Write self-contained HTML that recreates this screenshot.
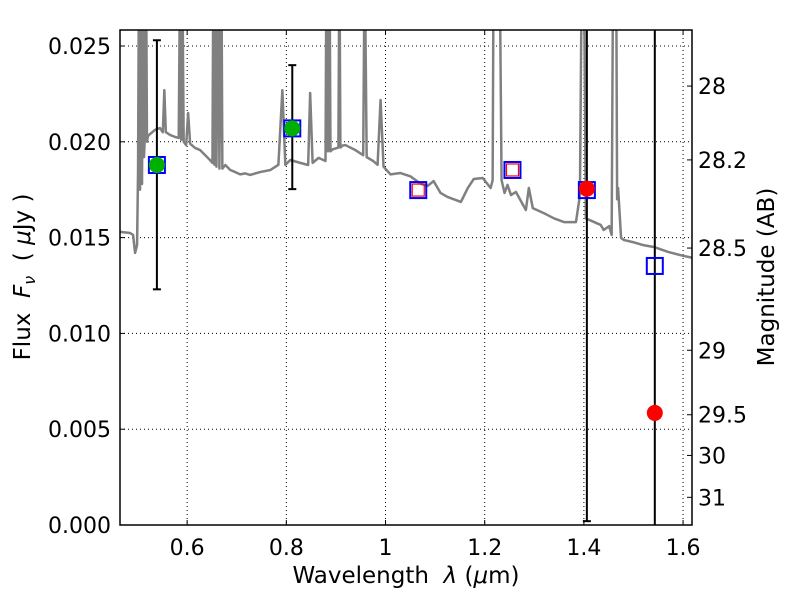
<!DOCTYPE html>
<html><head><meta charset="utf-8"><style>
html,body{margin:0;background:#fff;overflow:hidden;width:800px;height:600px}
svg{display:block}
svg text{font-family:"DejaVu Sans","Liberation Sans",sans-serif;fill:#000}
</style></head><body>
<svg id="chart" width="800" height="600" xmlns="http://www.w3.org/2000/svg" style="position:absolute;left:0;top:0"></svg>
<script>
// model spectrum: [wavelength (um), flux (uJy)]
const spectrum=[
[0.465,0.0153],[0.485,0.01524],[0.491,0.01514],[0.495,0.0142],[0.499,0.01461],[0.501,0.0185],
[0.503,0.03],[0.505,0.0175],[0.507,0.03],[0.509,0.0178],[0.511,0.03],[0.513,0.0192],[0.515,0.0205],
[0.517,0.03],[0.519,0.0200],[0.521,0.0203],[0.525,0.0204],[0.535,0.02062],[0.545,0.02072],
[0.551,0.0205],[0.554,0.0227],[0.557,0.0205],[0.566,0.02035],[0.576,0.02025],[0.583,0.0202],
[0.586,0.03],[0.588,0.0201],[0.590,0.03],[0.593,0.0200],[0.598,0.01983],[0.602,0.0215],
[0.606,0.0199],[0.616,0.01968],[0.626,0.01957],[0.636,0.01931],[0.646,0.01905],[0.651,0.0189],
[0.653,0.03],[0.655,0.0188],[0.657,0.03],[0.659,0.0187],[0.663,0.03],[0.665,0.0186],[0.669,0.03],
[0.671,0.0186],[0.677,0.01879],[0.687,0.01853],[0.697,0.01842],[0.707,0.01830],[0.717,0.01835],
[0.727,0.01827],[0.747,0.01842],[0.768,0.01853],[0.784,0.0188],[0.792,0.0227],[0.798,0.0188],
[0.808,0.01905],[0.828,0.0189],[0.844,0.01879],[0.848,0.02255],[0.853,0.0189],[0.865,0.01916],
[0.879,0.0190],[0.881,0.03],[0.884,0.0195],[0.887,0.03],[0.889,0.0195],[0.893,0.0196],
[0.905,0.0197],[0.907,0.03],[0.909,0.0197],[0.913,0.0198],[0.919,0.01983],[0.939,0.01957],
[0.955,0.0193],[0.958,0.03],[0.962,0.0192],[0.975,0.0190],[0.984,0.0188],[0.990,0.02218],
[0.996,0.0187],[1.010,0.0183],[1.030,0.01837],[1.050,0.01820],[1.071,0.01781],[1.085,0.01770],
[1.097,0.01795],[1.111,0.01733],[1.125,0.01712],[1.152,0.01686],[1.166,0.01759],[1.178,0.01806],
[1.196,0.01811],[1.212,0.01759],[1.216,0.0180],[1.218,0.03],[1.230,0.03],[1.234,0.0180],
[1.240,0.01733],[1.246,0.01775],[1.253,0.01722],[1.263,0.01738],[1.283,0.01644],[1.289,0.01759],
[1.297,0.01654],[1.319,0.01628],[1.340,0.01600],[1.360,0.01581],[1.384,0.01581],[1.392,0.01720],
[1.396,0.03],[1.400,0.03],[1.404,0.0160],[1.434,0.01566],[1.440,0.0154],[1.451,0.0156],
[1.456,0.01514],[1.459,0.03],[1.465,0.03],[1.467,0.0170],[1.469,0.01759],[1.475,0.01498],
[1.481,0.01487],[1.501,0.01475],[1.521,0.01460],[1.541,0.01451],[1.570,0.01425],[1.600,0.01405],[1.620,0.01394]];
const photLam=[0.539,0.812,1.066,1.256,1.406,1.543];
const photFlux=[0.01879,0.0207,0.01748,0.01853,0.01748,0.01352];
const modelRedLam=[1.066,1.256];
const modelRedFlux=[0.01748,0.01853];
const greenLam=[0.539,0.812];
const greenFlux=[0.01879,0.0207];
const greenLo=[0.0123,0.01753];
const greenHi=[0.0253,0.0240];
const redLam=[1.406,1.543];
const redFlux=[0.01755,0.00585];
const redLo=[0.0002,-0.01];
const redHi=[0.05,0.05];
const xTicks=[0.6,0.8,1.0,1.2,1.4,1.6];
const xTickLabels=["0.6","0.8","1","1.2","1.4","1.6"];
const yTicks=[0,0.005,0.01,0.015,0.02,0.025];
const yTickLabels=["0.000","0.005","0.010","0.015","0.020","0.025"];
const magTicks=[28,28.2,28.5,29,29.5,30,31];
const magLabels=["28","28.2","28.5","29","29.5","30","31"];

const L=120,R=692,T=30,B=525;
const xmin=0.4646,xmax=1.618,ymin=0,ymax=(B-T)/19160;
const X=v=>L+(v-xmin)/(xmax-xmin)*(R-L);
const Y=v=>B-(v-ymin)/(ymax-ymin)*(B-T);
const magToFlux=m=>Math.pow(10,(23.9-m)/2.5);
const svg=document.getElementById('chart');
const NS='http://www.w3.org/2000/svg';
function mk(tag,attrs,parent){const e=document.createElementNS(NS,tag);for(const k in attrs)e.setAttribute(k,attrs[k]);(parent||svg).appendChild(e);return e;}

const defs=mk('defs',{});
const cp=mk('clipPath',{id:'clip'},defs);
mk('rect',{x:L,y:T,width:R-L,height:B-T},cp);

xTicks.forEach((t,i)=>{
  const g=mk('line',{x1:X(t),x2:X(t),y1:T,y2:B,stroke:'#000','stroke-width':1,'stroke-dasharray':'1,3'});
  
  
  mk('line',{x1:X(t),x2:X(t),y1:B,y2:B-5,stroke:'#000'});
  mk('line',{x1:X(t),x2:X(t),y1:T,y2:T+5,stroke:'#000'});
  const tx=mk('text',{x:X(t),y:B+30,'font-size':22,'text-anchor':'middle'});
  tx.textContent=xTickLabels[i];
  
  
});
yTicks.forEach((t,i)=>{
  const g=mk('line',{x1:L,x2:R,y1:Y(t),y2:Y(t),stroke:'#000','stroke-width':1,'stroke-dasharray':'1,3'});
  
  
  mk('line',{x1:L,x2:L+5,y1:Y(t),y2:Y(t),stroke:'#000'});
  const tx=mk('text',{x:L-9,y:Y(t)+8,'font-size':22,'text-anchor':'end'});
  tx.textContent=yTickLabels[i];
  
  
});
magTicks.forEach((m,i)=>{
  const y=Y(magToFlux(m));
  mk('line',{x1:R-5,x2:R,y1:y,y2:y,stroke:'#000'});
  const tx=mk('text',{x:R+6,y:y+8,'font-size':22});
  tx.textContent=magLabels[i];
  
  
});

const plot=mk('g',{'clip-path':'url(#clip)'});


const sp=mk('polyline',{points:spectrum.map(p=>X(p[0])+','+Y(p[1])).join(' '),fill:'none',stroke:'#808080','stroke-width':2.5,'stroke-linejoin':'round'},plot);


function ebar(lam,lo,hi,name){
  const x=X(lam);
  const l=mk('line',{x1:x,x2:x,y1:Y(lo),y2:Y(hi),stroke:'#000','stroke-width':2},plot);
  
  
  mk('line',{x1:x-4,x2:x+4,y1:Y(lo),y2:Y(lo),stroke:'#000','stroke-width':2},plot);
  mk('line',{x1:x-4,x2:x+4,y1:Y(hi),y2:Y(hi),stroke:'#000','stroke-width':2},plot);
}
greenLam.forEach((l,i)=>ebar(l,greenLo[i],greenHi[i],'green-error-bar'));
redLam.forEach((l,i)=>ebar(l,redLo[i],redHi[i],'red-error-bar'));
photLam.forEach((l,i)=>{
  const r=mk('rect',{x:X(l)-8,y:Y(photFlux[i])-8,width:16,height:16,fill:'none',stroke:'#0000ff','stroke-width':2},plot);
  
  
});
modelRedLam.forEach((l,i)=>{
  const r=mk('rect',{x:X(l)-6,y:Y(modelRedFlux[i])-6,width:12,height:12,fill:'none',stroke:'#ff0000','stroke-width':1.2},plot);
  
  
});
greenLam.forEach((l,i)=>{
  const c=mk('circle',{cx:X(l),cy:Y(greenFlux[i]),r:8,fill:'#00b000'},plot);
  
  
});
redLam.forEach((l,i)=>{
  const c=mk('circle',{cx:X(l),cy:Y(redFlux[i]),r:8,fill:'#ff0000'},plot);
  
  
});
const fr=mk('rect',{x:L,y:T,width:R-L,height:B-T,fill:'none',stroke:'#000','stroke-width':1.5});


</script>
<svg style="position:absolute;left:0;top:0" width="800" height="600" xmlns="http://www.w3.org/2000/svg">
<text x="406" y="583" font-size="23" text-anchor="middle" style="font-family:'DejaVu Sans',sans-serif" xml:space="preserve">Wavelength  <tspan font-style="italic">λ</tspan> (<tspan font-style="italic">μ</tspan>m)</text>
<text transform="translate(30,277) rotate(-90)" font-size="23" text-anchor="middle" style="font-family:'DejaVu Sans',sans-serif" xml:space="preserve">Flux  <tspan font-style="italic">F</tspan><tspan font-style="italic" font-size="16" dy="5">ν</tspan><tspan dy="-5">  ( </tspan><tspan font-style="italic">μ</tspan>Jy )</text>
<text transform="translate(774,277) rotate(-90)" font-size="23" text-anchor="middle" style="font-family:'DejaVu Sans',sans-serif">Magnitude (AB)</text>
</svg>
</body></html>
